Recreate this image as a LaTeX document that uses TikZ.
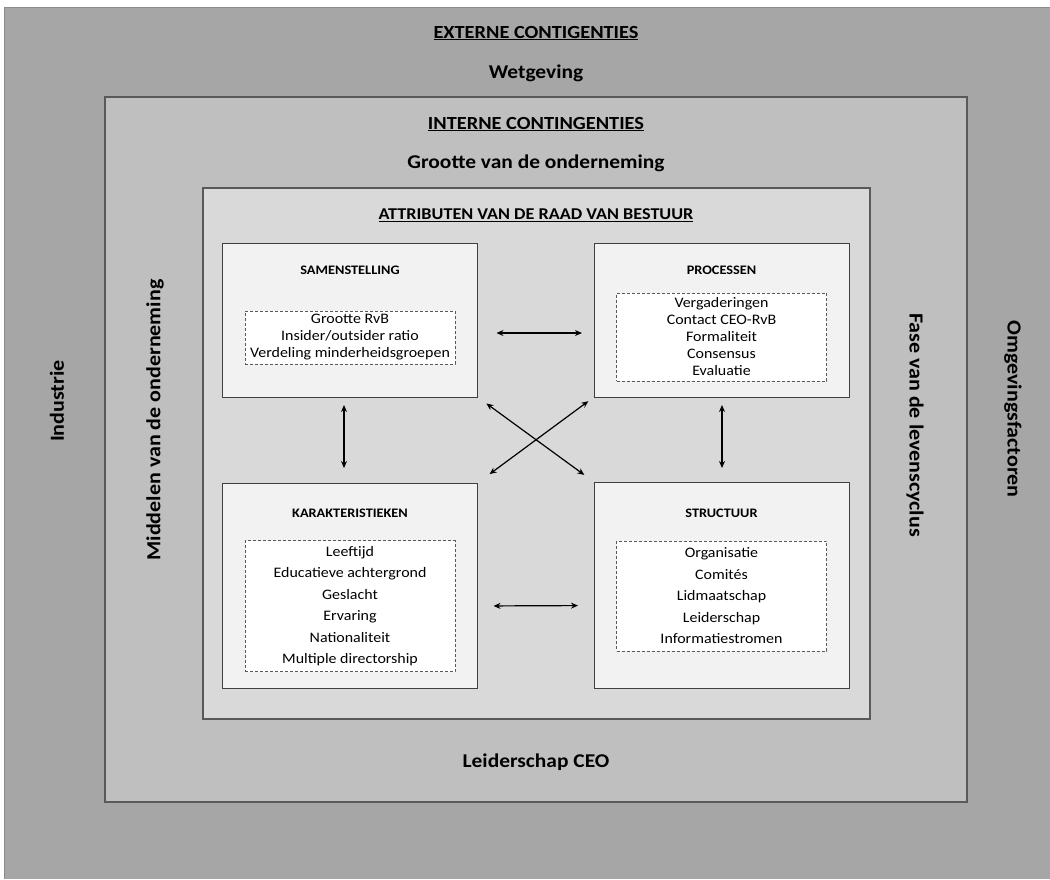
\documentclass[tikz,border=0pt]{standalone}
\usepackage{fontspec}
\setmainfont{Carlito}[FakeStretch=1.1]
\usetikzlibrary{arrows.meta}
\definecolor{extfill}{HTML}{A6A6A6}
\definecolor{intfill}{HTML}{BFBFBF}
\definecolor{attrfill}{HTML}{D9D9D9}
\definecolor{cellfill}{HTML}{F2F2F2}
\definecolor{frameline}{HTML}{595959}
\definecolor{extline}{HTML}{8C8C8C}
\tikzset{
  levelbox/.style={draw=frameline, line width=1.3pt, inner sep=0pt, outer sep=0pt},
  cellbox/.style={draw=black!75, line width=0.8pt, fill=cellfill, inner sep=0pt, outer sep=0pt,
    minimum width=255pt},
  itembox/.style={draw=black!65, dashed, dash pattern=on 3pt off 2pt, line width=0.7pt, fill=white,
    inner sep=0pt, outer sep=0pt, minimum width=210pt, align=center},
  heading/.style={font=\fontsize{18.5}{20}\selectfont\bfseries},
  level/.style={font=\fontsize{19.5}{22}\selectfont\bfseries},
  side/.style={font=\fontsize{20}{22}\selectfont\bfseries},
  celltitle/.style={font=\fontsize{13}{15}\selectfont\bfseries},
  biarrow/.style={{Stealth[length=7pt,width=6pt]}-{Stealth[length=7pt,width=6pt]}, line width=1.2pt, black},
}
\begin{document}
\begin{tikzpicture}[x=1pt,y=-1pt]
\useasboundingbox (0,0) rectangle (1050,879);

% external contingencies
\fill[extfill] (4,7) rectangle (1050,879);
\draw[extline, line width=1pt] (4,879) -- (4,7) -- (1050,7);
\node[heading] (exth) at (536,33) {\underline{EXTERNE CONTIGENTIES}};
\node[level] (wet) at (536,73) {Wetgeving};
\node[side, rotate=90] (ind) at (57,401) {Industrie};
\node[side, rotate=-90] (omg) at (1013,409) {Omgevingsfactoren};

% internal contingencies
\node[levelbox, fill=intfill, minimum width=862pt, minimum height=705pt] (int) at (536,449.5) {};
\node[heading] (inth) at (536,124) {\underline{INTERNE CONTINGENTIES}};
\node[level] (groot) at (536,163) {Grootte van de onderneming};
\node[level] (ceo) at (536,762) {Leiderschap CEO};
\node[side, rotate=90] (mid) at (155,420) {Middelen van de onderneming};
\node[side, rotate=-90] (fase) at (915,425) {Fase van de levenscyclus};

% board attributes
\node[levelbox, fill=attrfill, minimum width=667pt, minimum height=531pt] (attr) at (536.5,453.5) {};
\node[font=\fontsize{16.5}{18}\selectfont\bfseries] (attrh) at (536,215) {\underline{ATTRIBUTEN VAN DE RAAD VAN BESTUUR}};

% four attribute cells
\node[cellbox, minimum height=154pt] (sam) at (350,320) {};
\node[cellbox, minimum height=154pt] (proc) at (721.5,320) {};
\node[cellbox, minimum height=205pt] (kar) at (350,585.5) {};
\node[cellbox, minimum height=206pt] (str) at (721.5,585) {};

\node[celltitle] (samt) at (350,270) {SAMENSTELLING};
\node[celltitle] (proct) at (721.5,270) {PROCESSEN};
\node[celltitle] (kart) at (350,513) {KARAKTERISTIEKEN};
\node[celltitle] (strt) at (721.5,513) {STRUCTUUR};

\node[itembox, minimum height=53pt, font=\fontsize{14.5}{17}\selectfont] (sami) at (350,337.5)
  {Grootte RvB\\Insider/outsider ratio\\Verdeling minderheidsgroepen};
\node[itembox, minimum height=88pt, font=\fontsize{14.5}{17}\selectfont] (proci) at (721.5,337)
  {Vergaderingen\\Contact CEO-RvB\\Formaliteit\\Consensus\\Evaluatie};
\node[itembox, minimum height=131pt, font=\fontsize{14.5}{21.5}\selectfont] (kari) at (350,606)
  {Leeftijd\\Educatieve achtergrond\\Geslacht\\Ervaring\\Nationaliteit\\Multiple directorship};
\node[itembox, minimum height=110pt, font=\fontsize{14.5}{21.5}\selectfont] (stri) at (721.5,596)
  {Organisatie\\Comités\\Lidmaatschap\\Leiderschap\\Informatiestromen};

% relations between the cells
\draw[biarrow, shorten <=19pt, shorten >=12pt] ([yshift=-13pt]sam.east) -- ([yshift=-13pt]proc.west);
\draw[biarrow, shorten <=16pt, shorten >=16pt] ([yshift=-20.5pt]kar.east) -- ([yshift=-20.5pt]str.west);
\draw[biarrow, shorten <=8pt, shorten >=15pt] ([xshift=-6pt]sam.south) -- ([xshift=-6pt]kar.north);
\draw[biarrow, shorten <=8pt, shorten >=14pt] ([xshift=0.5pt]proc.south) -- ([xshift=0.5pt]str.north);
\draw[biarrow, shorten <=11pt, shorten >=12pt] (sam.south east) -- (str.north west);
\draw[biarrow, shorten <=7pt, shorten >=15pt] (proc.south west) -- (kar.north east);
\end{tikzpicture}
\end{document}
